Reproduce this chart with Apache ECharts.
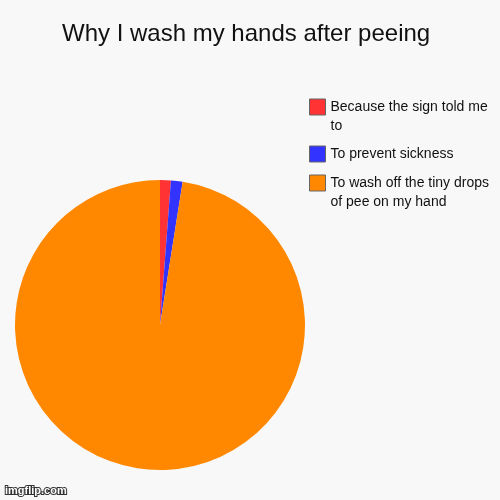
<!DOCTYPE html>
<html><head><meta charset="utf-8">
<script src="https://cdn.jsdelivr.net/npm/echarts@6/dist/echarts.min.js"></script>
<style>html,body{margin:0;padding:0;background:#f8f8f8}#c{width:500px;height:500px}</style>
</head><body><div id="c"></div>
<script>
const title = 'Why I wash my hands after peeing';
const watermark = 'imgflip.com';
const categories = ['Because the sign told me to', 'To prevent sickness', 'To wash off the tiny drops of pee on my hand'];
const values = [1.2, 1.3, 97.5];
const colors = ['#ff3333', '#3333ff', '#ff8800'];

const FONT = '14px "Liberation Sans"';
const WRAP = 168;
const LH = 19;
const ctx = document.createElement('canvas').getContext('2d');
ctx.font = FONT;
function wrapLines(s) {
  const words = s.split(' '); const lines = []; let cur = '';
  words.forEach(w => {
    const t = cur ? cur + ' ' + w : w;
    if (ctx.measureText(t).width > WRAP && cur) { lines.push(cur); cur = w; } else cur = t;
  });
  lines.push(cur);
  return lines;
}
const iconCentres = [107, 154, 183];

const chart = echarts.init(document.getElementById('c'));
chart.setOption({
  backgroundColor: '#f8f8f8',
  animation: false,
  title: {
    text: title, left: 62, top: 22, padding: 0,
    textStyle: {fontFamily: 'Liberation Sans', fontSize: 24, fontWeight: 'normal', color: '#111'}
  },
  graphic: [{
    type: 'text', left: 4, top: 484, silent: true,
    style: {text: watermark, font: 'bold 11px "Liberation Sans"', fill: '#fff', stroke: '#333', lineWidth: 2}
  }],
  legend: categories.map((c, i) => {
    const lines = wrapLines(c);
    const shown = lines.length > 1 ? '\n'.repeat(lines.length - 1) + lines.join('\n') : lines[0];
    const n = lines.length > 1 ? 2 * lines.length - 1 : 1;
    const blockH = n * LH;
    const topOff = Math.min(0, 8 - blockH / 2);
    return {
      data: [c], left: 309, top: iconCentres[i] - 8 + topOff, orient: 'vertical', padding: 0,
      itemWidth: 16, itemHeight: 16, itemGap: 0, icon: 'rect',
      itemStyle: {borderColor: '#666', borderWidth: 1},
      selectedMode: false,
      formatter: () => shown,
      textStyle: {fontFamily: 'Liberation Sans', fontSize: 14, color: '#111', lineHeight: LH}
    };
  }),
  series: [{
    type: 'pie', center: [160, 325], radius: 145, startAngle: 90, clockwise: true,
    label: {show: false}, labelLine: {show: false},
    emphasis: {disabled: true},
    data: categories.map((c, i) => ({name: c, value: values[i], itemStyle: {color: colors[i]}}))
  }]
});
</script></body></html>
